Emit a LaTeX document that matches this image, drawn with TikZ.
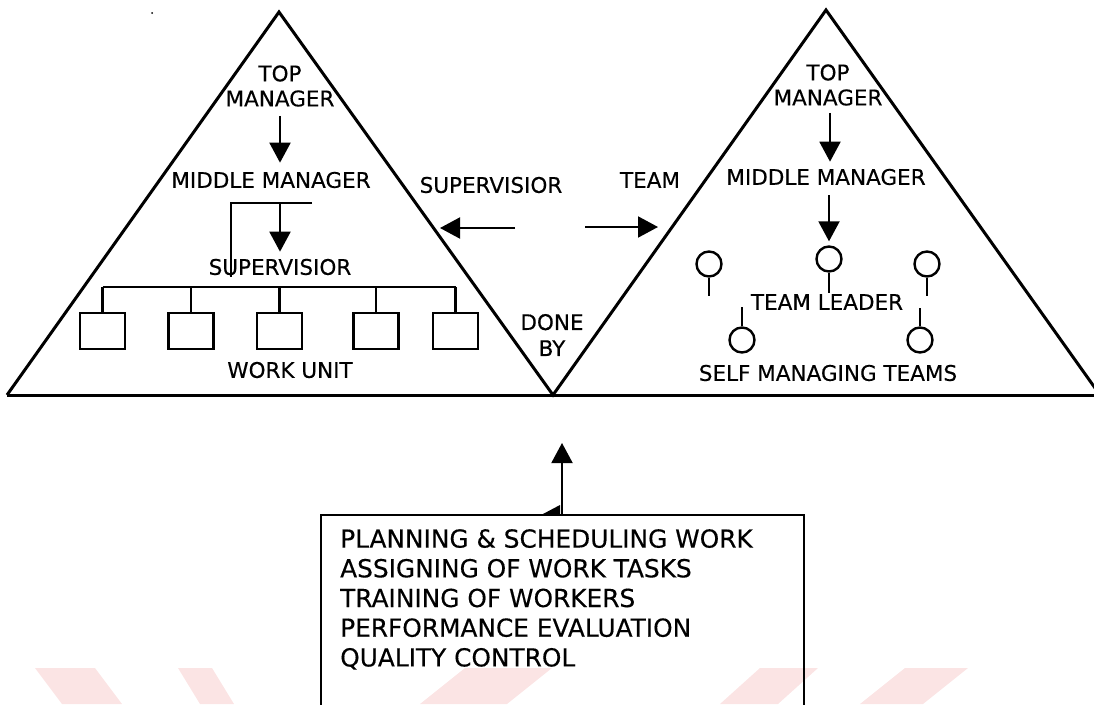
\documentclass[tikz,border=0pt]{standalone}
\usepackage{fontspec}
\setmainfont{DejaVu Sans}[FakeBold=0.35]
\usetikzlibrary{arrows.meta,calc}
\definecolor{wmark}{RGB}{251,228,228}
\tikzset{
  lbl/.style={inner sep=0pt, font=\fontsize{21.5}{25}\selectfont, align=center},
  edge/.style={line width=3pt, line join=miter},
  arr/.style={line width=2pt, -{Triangle[length=20pt,width=21pt]}},
  unitbox/.style={draw, line width=2.8pt, minimum width=45pt, minimum height=36pt, inner sep=0pt},
  member/.style={draw, circle, line width=2.4pt, minimum size=25pt, inner sep=0pt},
  stem/.style={line width=2.4pt},
  hair/.style={line width=1.1pt},
  bus/.style={line width=2.6pt},
}
\begin{document}
\begin{tikzpicture}[x=1pt,y=-1pt]
\useasboundingbox (0,0) rectangle (1094,704);

% faint background stripes
\fill[wmark] (35,668) -- (95,668) -- (122,704) -- (62,704) -- cycle;
\fill[wmark] (178,668) -- (212,668) -- (234,704) -- (200,704) -- cycle;
\fill[wmark] (465,668) -- (552,668) -- (507,704) -- (420,704) -- cycle;
\fill[wmark] (760,668) -- (818,668) -- (778,704) -- (720,704) -- cycle;
\fill[wmark] (905,668) -- (968,668) -- (923,704) -- (860,704) -- cycle;

% the two pyramids
\coordinate (L1) at (7,395);
\coordinate (L2) at (279,12);
\coordinate (V)  at (553,395);
\coordinate (R2) at (826,10);
\coordinate (R3) at (1100,395);
\draw[edge] (L1) -- (L2) -- (V) -- (R2) -- (R3);
\draw[edge] (L1) -- (R3);
\fill (152,13) circle (1pt);

% traditional hierarchy
\node[lbl] (ltop) at (280,86) {TOP\\MANAGER};
\node[lbl] (lmid) at (271,180) {MIDDLE MANAGER};
\node[lbl] (lsup) at (280,267) {SUPERVISIOR};
\node[lbl] (lwork) at (290,370) {WORK UNIT};
\draw[arr, shorten <=9pt, shorten >=9pt] (ltop.south) -- (ltop.south |- lmid.north);
\coordinate (brk) at (231,203);
\draw[hair] (312,203) -- (brk) -- (231,277);
\draw[arr, shorten >=7pt] (lsup.north |- brk) -- (lsup.north);

\node[unitbox] (b1) at (102.5,331) {};
\node[unitbox] (b2) at (191,331) {};
\node[unitbox] (b3) at (279.5,331) {};
\node[unitbox] (b4) at (376,331) {};
\node[unitbox] (b5) at (455.5,331) {};
\coordinate (busL) at (102.5,287);
\draw[bus] (busL) -- (b5.north |- busL);
\foreach \b in {b1,b2,b3,b4,b5} \draw[bus] (\b.north) -- (\b.north |- busL);

% labels between the pyramids
\node[lbl] (supv) at (491,185) {SUPERVISIOR};
\node[lbl] (team) at (650,180) {TEAM};
\node[lbl, font=\fontsize{21.5}{26}\selectfont] (done) at (552,335) {DONE\\BY};
\coordinate (sa) at (515,228);
\coordinate (sb) at (440,228);
\coordinate (ta) at (585,227);
\coordinate (tb) at (658,227);
\draw[arr] (sa) -- (sb);
\draw[arr] (ta) -- (tb);

% team-based hierarchy
\node[lbl] (rtop) at (828,85) {TOP\\MANAGER};
\node[lbl] (rmid) at (826,177) {MIDDLE MANAGER};
\node[lbl] (tlead) at (827,302) {TEAM LEADER};
\node[lbl] (smt) at (828,373) {SELF MANAGING TEAMS};
\draw[arr, shorten <=7pt, shorten >=7pt] (rtop.south -| 830,0) -- (rmid.north -| 830,0);

\node[member] (c1) at (709,264) {};
\node[member] (c2) at (829,259) {};
\node[member] (c3) at (927,264) {};
\node[member] (c4) at (742,340) {};
\node[member] (c5) at (920,340) {};
\draw[arr, shorten <=10pt, shorten >=4pt] (c2.north |- rmid.south) -- (c2.north);
\draw[stem] (c1.south) -- ++(0,18);
\draw[stem] (c2.south) -- ++(0,20);
\draw[stem] (c3.south) -- ++(0,18);
\draw[stem] (c4.north) -- ++(0,-19);
\draw[stem] (c5.north) -- ++(0,-18);

% supervisory tasks
\node[draw, line width=2.2pt, minimum width=483pt, minimum height=220pt,
      anchor=north west, inner sep=0pt] (frame) at (320,514) {};
\node[anchor=north west, inner sep=0pt, align=left,
      font=\fontsize{24.8}{29.7}\selectfont] (tasks) at (340,529)
  {PLANNING \& SCHEDULING WORK\\ASSIGNING OF WORK TASKS\\TRAINING OF WORKERS\\PERFORMANCE EVALUATION\\QUALITY CONTROL};
\coordinate (tip) at (562,443);
\draw[arr] (frame.north -| tip) -- (tip);
\fill (543,514) -- (560,505) -- (560,514) -- cycle;
\end{tikzpicture}
\end{document}
